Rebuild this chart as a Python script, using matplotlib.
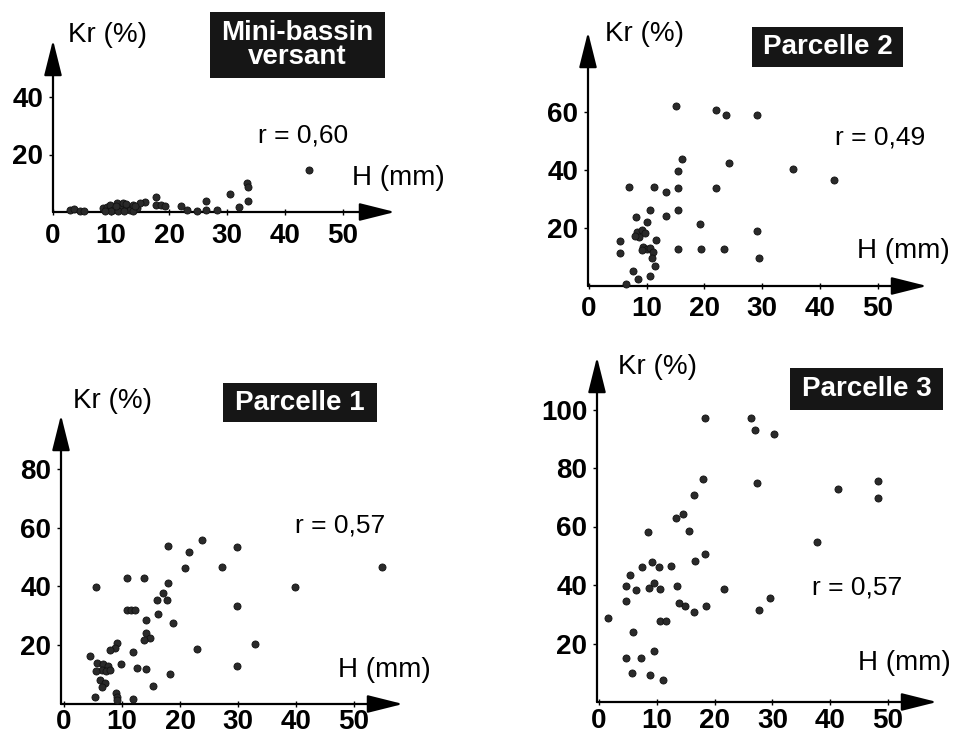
import matplotlib
matplotlib.use("Agg")
import matplotlib.pyplot as plt
from matplotlib.patches import Rectangle

plt.rcParams['font.family'] = ['Liberation Sans', 'DejaVu Sans']

# ---------------------------------------------------------------
# Runoff coefficient Kr (%) versus rainfall depth H (mm)
# ---------------------------------------------------------------
x_ticks = [0, 10, 20, 30, 40, 50]

# Mini-bassin versant
mini_h = [44.2, 33.4, 33.7, 30.5, 33.7, 32.1, 26.4, 26.4, 28.2, 24.8, 23.1, 22.0,
          17.8, 17.8, 18.7, 19.3, 15.9,
          8.7, 9.3, 9.8, 10.4, 11.0, 11.6, 12.1, 12.7, 13.3, 13.8, 14.4, 15.0,
          10.0, 11.2, 12.3, 13.8, 9.0, 10.8, 12.5, 14.2,
          3.0, 3.6, 4.6, 5.3]
mini_kr = [14.6, 10.0, 8.8, 6.3, 3.9, 1.6, 3.9, 0.7, 0.7, 0.3, 0.7, 2.1,
           5.1, 2.4, 2.4, 2.1, 3.6,
           1.3, 1.8, 2.4, 0.7, 3.0, 1.3, 3.0, 1.8, 0.7, 2.4, 1.3, 3.0,
           0.2, 0.3, 0.2, 0.3, 0.5, 2.0, 2.8, 2.0,
           0.6, 0.9, 0.4, 0.3]
mini_yticks = [20, 40]

# Parcelle 2
p2_h = [15.0, 22.0, 23.7, 29.1, 16.1, 24.3, 35.4, 42.5, 15.5, 7.0, 11.3, 15.5,
        22.0, 13.3, 15.5, 10.5, 13.4, 8.1, 10.1, 19.2, 29.2,
        8.3, 9.1, 9.7, 8.7, 8.0, 5.4, 11.6, 5.4,
        9.4, 10.0, 10.6, 9.1, 11.1, 15.5, 19.4, 23.4, 29.5, 10.9, 11.4, 7.6,
        10.6, 8.5, 6.4]
p2_kr = [62.1, 60.7, 59.0, 59.0, 43.8, 42.3, 40.2, 36.6, 39.5, 34.2, 34.2, 33.9,
         33.9, 32.3, 26.3, 26.1, 24.3, 23.7, 22.0, 21.5, 19.0,
         18.7, 19.3, 18.2, 17.0, 17.2, 15.6, 15.9, 11.5,
         13.6, 12.7, 13.0, 12.4, 11.8, 12.7, 12.7, 12.9, 9.8, 9.5, 6.9, 5.2,
         3.6, 2.4, 0.6]
p2_yticks = [20, 40, 60]

# Parcelle 1
p1_h = [54.8, 39.8, 29.9, 29.9, 29.9, 33.0, 23.8, 21.6, 20.9, 27.2, 17.9, 18.0,
        17.1, 17.7, 16.1, 18.8, 16.2, 13.8, 10.8, 5.6, 10.8, 11.5, 12.2, 14.1,
        14.1, 14.8, 13.8, 22.9, 11.9, 9.1, 8.8, 7.9, 4.5,
        5.7, 6.8, 7.6, 6.5, 5.6, 7.2, 8.0,
        9.9, 12.5, 14.1, 18.2, 6.2, 7.1, 6.5, 15.3, 5.3, 9.0, 9.1, 9.1, 11.9]
p1_kr = [46.7, 39.8, 53.3, 33.3, 12.8, 20.1, 55.8, 51.8, 46.1, 46.5, 53.9, 41.0,
         37.6, 35.3, 35.3, 27.3, 30.4, 42.9, 42.9, 39.8, 31.8, 31.8, 31.8, 28.4,
         23.9, 22.2, 21.6, 18.4, 17.6, 20.4, 18.7, 18.2, 16.1,
         13.6, 13.4, 12.7, 11.3, 11.1, 11.1, 11.3,
         13.3, 11.9, 11.6, 9.9, 7.9, 6.7, 5.4, 5.8, 2.2, 3.5, 2.2, 1.0, 1.4]
p1_yticks = [20, 40, 60, 80]

# Parcelle 3
p3_h = [18.4, 26.3, 27.0, 30.3, 18.0, 27.3, 48.2, 41.4, 48.2, 16.4, 13.4, 14.5,
        15.5, 8.4, 37.8, 18.4, 16.6, 7.5, 9.2, 10.4, 12.5, 5.3, 4.7, 6.4,
        8.6, 9.6, 10.5, 13.5, 21.7, 29.6, 4.6, 13.8, 14.9, 18.5, 16.5, 27.6,
        1.6, 10.5, 11.6, 5.9, 9.5, 4.7, 7.3, 5.7, 8.9, 11.0]
p3_kr = [97.0, 97.0, 93.0, 91.5, 76.2, 75.0, 75.6, 72.7, 69.6, 70.8, 62.8, 64.2,
         58.6, 58.2, 54.6, 50.5, 48.3, 46.0, 47.8, 46.3, 46.5, 43.4, 39.8, 38.3,
         39.1, 40.6, 38.5, 39.7, 38.6, 35.4, 34.6, 33.9, 32.8, 32.8, 30.9, 31.5,
         28.6, 27.8, 27.8, 24.0, 17.4, 15.2, 14.9, 10.0, 9.2, 7.5]
p3_yticks = [20, 40, 60, 80, 100]

W, H = 960, 736
fig = plt.figure(figsize=(W / 100, H / 100), dpi=100)


def fx(px):
    return px / W


def fy(py):
    return 1 - py / H


def draw_panel(h, kr, yticks, geo, xpad, title, title_box, kr_pos, hmm_pos,
               r_text, r_pos):
    yax, xax, ox, oy, sx, sy, xtip, ytip = geo
    ax = fig.add_axes([fx(yax), fy(xax), (xtip - yax) / W, (xax - ytip) / H])
    ax.set_xlim((yax - ox) / sx, (xtip - ox) / sx)
    ax.set_ylim((oy - xax) / sy, (oy - ytip) / sy)
    ax.patch.set_alpha(0)
    for s in ax.spines.values():
        s.set_visible(False)

    arrow = dict(arrowstyle='-|>,head_length=2.2,head_width=0.55',
                 mutation_scale=10, lw=1.6, color='black',
                 shrinkA=0, shrinkB=0)
    ax.annotate('', xy=(1, 0), xytext=(0, 0), xycoords='axes fraction',
                textcoords='axes fraction', arrowprops=arrow, annotation_clip=False)
    ax.annotate('', xy=(0, 1), xytext=(0, 0), xycoords='axes fraction',
                textcoords='axes fraction', arrowprops=arrow, annotation_clip=False)

    ax.scatter(h, kr, s=26, facecolor='#2a2a2a', edgecolor='#111111',
               linewidths=0.6, zorder=3, clip_on=False)

    ax.set_xticks(x_ticks)
    ax.set_xticklabels([str(t) for t in x_ticks])
    ax.set_yticks(yticks)
    ax.set_yticklabels([str(t) for t in yticks])
    ax.tick_params(axis='x', direction='inout', length=4, width=1,
                   pad=xpad, labelsize=20)
    ax.tick_params(axis='y', direction='out', length=3, width=1,
                   pad=4, labelsize=20)
    for lab in ax.get_xticklabels() + ax.get_yticklabels():
        lab.set_fontweight('bold')

    # title badge
    x0, y0, x1, y1 = title_box
    fig.add_artist(Rectangle((fx(x0), fy(y1)), (x1 - x0) / W, (y1 - y0) / H,
                             transform=fig.transFigure, facecolor='#161616',
                             edgecolor='none'))
    fig.text(fx((x0 + x1) / 2), fy((y0 + y1) / 2), title, color='white',
             fontsize=20, fontweight='bold', ha='center', va='center',
             linespacing=0.92)

    fig.text(fx(kr_pos[0]), fy(kr_pos[1]), 'Kr (%)', fontsize=20,
             ha='left', va='center')
    fig.text(fx(hmm_pos[0]), fy(hmm_pos[1]), 'H (mm)', fontsize=20,
             ha='left', va='center')
    fig.text(fx(r_pos[0]), fy(r_pos[1]), r_text, fontsize=19,
             ha='left', va='center')
    return ax


draw_panel(mini_h, mini_kr, mini_yticks,
           (53, 212, 53, 212, 5.8, 2.875, 395, 40), 6,
           'Mini-bassin\nversant', (210, 12, 385, 78),
           (68, 35), (352, 178), 'r = 0,60', (258, 135))

draw_panel(p2_h, p2_kr, p2_yticks,
           (588, 286, 589, 286, 5.77, 2.9, 927, 32), 5,
           'Parcelle 2', (752, 27, 903, 67),
           (605, 34), (857, 251), 'r = 0,49', (835, 138))

draw_panel(p1_h, p1_kr, p1_yticks,
           (61, 704, 64, 703, 5.8, 2.92, 403, 415), 1.5,
           'Parcelle 1', (223, 383, 377, 422),
           (73, 401), (338, 670), 'r = 0,57', (295, 526))

draw_panel(p3_h, p3_kr, p3_yticks,
           (597, 702, 599, 702, 5.78, 2.925, 937, 357), 2.5,
           'Parcelle 3', (790, 368, 943, 410),
           (618, 367), (858, 663), 'r = 0,57', (812, 587))

fig.savefig('out.png', dpi=100, facecolor='white')
